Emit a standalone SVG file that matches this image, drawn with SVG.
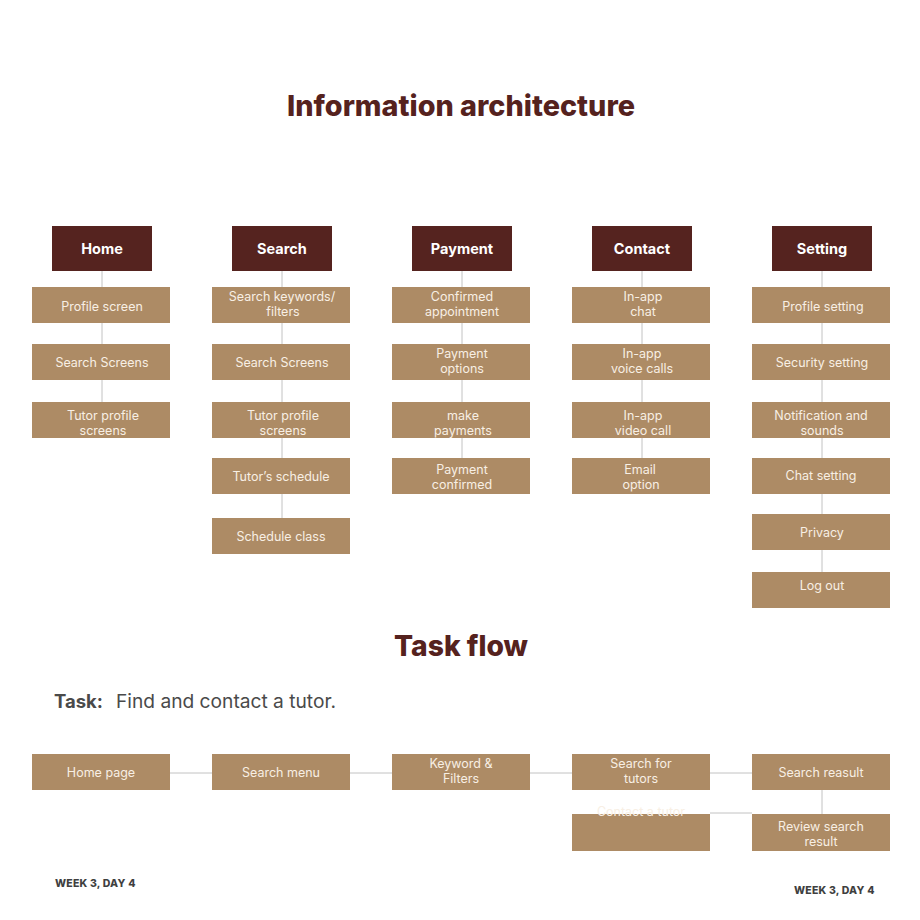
<svg xmlns="http://www.w3.org/2000/svg" width="920" height="920" viewBox="0 0 920 920">
<style>
text{font-family:Inter,"Noto Sans","Liberation Sans",sans-serif}
.title{font-size:29px;font-weight:800;fill:#55221e;text-anchor:middle}
.hd rect{fill:#55231f}
.hd text{font-size:14.5px;font-weight:700;fill:#ffffff;text-anchor:middle}
.bx rect{fill:#ad8b65}
.bx text{font-size:12.5px;fill:#f8efe4;text-anchor:middle}
.ln{stroke:#c2c2c2;stroke-width:1;fill:none}
.foot{font-size:10.5px;font-weight:800;fill:#3f3f3f;letter-spacing:0.2px}
</style>
<rect width="920" height="920" fill="#ffffff"/>
<text class="title" x="461" y="116" textLength="348" lengthAdjust="spacingAndGlyphs">Information architecture</text>
<text class="title" x="461" y="656" textLength="134" lengthAdjust="spacingAndGlyphs">Task flow</text>

<g id="connectors">
<path class="ln" d="M102 271V287M102 323V344M102 380V402"/>
<path class="ln" d="M282 271V287M282 323V344M282 380V402M282 438V458M282 494V518"/>
<path class="ln" d="M462 271V287M462 323V344M462 380V402M462 438V458"/>
<path class="ln" d="M642 271V287M642 323V344M642 380V402M642 438V458"/>
<path class="ln" d="M822 271V287M822 323V344M822 380V402M822 438V458M822 494V514M822 550V572"/>
<path class="ln" d="M170 773H212M350 773H392M530 773H572M710 773H752M822 790V814M710 813H752"/>
</g>

<g id="home" class="hd"><rect x="52" y="226" width="100" height="45"/><text x="102" y="254">Home</text></g>
<g id="search" class="hd"><rect x="232" y="226" width="100" height="45"/><text x="282" y="254">Search</text></g>
<g id="payment" class="hd"><rect x="412" y="226" width="100" height="45"/><text x="462" y="254">Payment</text></g>
<g id="contact" class="hd"><rect x="592" y="226" width="100" height="45"/><text x="642" y="254">Contact</text></g>
<g id="setting" class="hd"><rect x="772" y="226" width="100" height="45"/><text x="822" y="254">Setting</text></g>

<g id="home-profile" class="bx"><rect x="32" y="287" width="138" height="36"/><text x="102" y="311">Profile screen</text></g>
<g id="home-search" class="bx"><rect x="32" y="344" width="138" height="36"/><text x="102" y="367">Search Screens</text></g>
<g id="home-tutor" class="bx"><rect x="32" y="402" width="138" height="36"/><text x="103" y="420">Tutor profile</text><text x="103" y="435">screens</text></g>

<g id="search-keywords" class="bx"><rect x="212" y="287" width="138" height="36"/><text x="282" y="301">Search keywords/</text><text x="283" y="316">filters</text></g>
<g id="search-screens" class="bx"><rect x="212" y="344" width="138" height="36"/><text x="282" y="367">Search Screens</text></g>
<g id="search-tutor" class="bx"><rect x="212" y="402" width="138" height="36"/><text x="283" y="420">Tutor profile</text><text x="283" y="435">screens</text></g>
<g id="search-schedule" class="bx"><rect x="212" y="458" width="138" height="36"/><text x="281" y="481">Tutor’s schedule</text></g>
<g id="search-class" class="bx"><rect x="212" y="518" width="138" height="36"/><text x="281" y="541">Schedule class</text></g>

<g id="pay-confirmed-appt" class="bx"><rect x="392" y="287" width="138" height="36"/><text x="462" y="301">Confirmed</text><text x="462" y="316">appointment</text></g>
<g id="pay-options" class="bx"><rect x="392" y="344" width="138" height="36"/><text x="462" y="358">Payment</text><text x="462" y="373">options</text></g>
<g id="pay-make" class="bx"><rect x="392" y="402" width="138" height="36"/><text x="463" y="420">make</text><text x="463" y="435">payments</text></g>
<g id="pay-confirmed" class="bx"><rect x="392" y="458" width="138" height="36"/><text x="462" y="474">Payment</text><text x="462" y="489">confirmed</text></g>

<g id="contact-chat" class="bx"><rect x="572" y="287" width="138" height="36"/><text x="643" y="301">In-app</text><text x="643" y="316">chat</text></g>
<g id="contact-voice" class="bx"><rect x="572" y="344" width="138" height="36"/><text x="642" y="358">In-app</text><text x="642" y="373">voice calls</text></g>
<g id="contact-video" class="bx"><rect x="572" y="402" width="138" height="36"/><text x="643" y="420">In-app</text><text x="643" y="435">video call</text></g>
<g id="contact-email" class="bx"><rect x="572" y="458" width="138" height="36"/><text x="640" y="474">Email</text><text x="641" y="489">option</text></g>

<g id="set-profile" class="bx"><rect x="752" y="287" width="138" height="36"/><text x="823" y="311">Profile setting</text></g>
<g id="set-security" class="bx"><rect x="752" y="344" width="138" height="36"/><text x="822" y="367">Security setting</text></g>
<g id="set-notif" class="bx"><rect x="752" y="402" width="138" height="36"/><text x="821" y="420">Notification and</text><text x="822" y="435">sounds</text></g>
<g id="set-chat" class="bx"><rect x="752" y="458" width="138" height="36"/><text x="821" y="480">Chat setting</text></g>
<g id="set-privacy" class="bx"><rect x="752" y="514" width="138" height="36"/><text x="822" y="537">Privacy</text></g>
<g id="set-logout" class="bx"><rect x="752" y="572" width="138" height="36"/><text x="822" y="590">Log out</text></g>

<text x="54" y="708" style="font-size:18.5px;font-weight:700;fill:#4a4a4a" textLength="49" lengthAdjust="spacingAndGlyphs">Task:</text>
<text x="116" y="708" style="font-size:19px;fill:#4a4a4a" textLength="220" lengthAdjust="spacingAndGlyphs">Find and contact a tutor.</text>

<g id="tf-home" class="bx"><rect x="32" y="754" width="138" height="36"/><text x="101" y="777">Home page</text></g>
<g id="tf-search" class="bx"><rect x="212" y="754" width="138" height="36"/><text x="281" y="777">Search menu</text></g>
<g id="tf-keyword" class="bx"><rect x="392" y="754" width="138" height="36"/><text x="461" y="768">Keyword &amp;</text><text x="461" y="783">Filters</text></g>
<g id="tf-searchfor" class="bx"><rect x="572" y="754" width="138" height="36"/><text x="641" y="768">Search for</text><text x="641" y="783">tutors</text></g>
<g id="tf-result" class="bx"><rect x="752" y="754" width="138" height="36"/><text x="821" y="777">Search reasult</text></g>
<g id="tf-contact" class="bx"><rect x="572" y="814" width="138" height="37"/><text x="641" y="816">Contact a tutor</text></g>
<g id="tf-review" class="bx"><rect x="752" y="814" width="138" height="37"/><text x="821" y="831">Review search</text><text x="821" y="846">result</text></g>

<text class="foot" x="55" y="887">WEEK 3, DAY 4</text>
<text class="foot" x="794" y="894">WEEK 3, DAY 4</text>
</svg>
